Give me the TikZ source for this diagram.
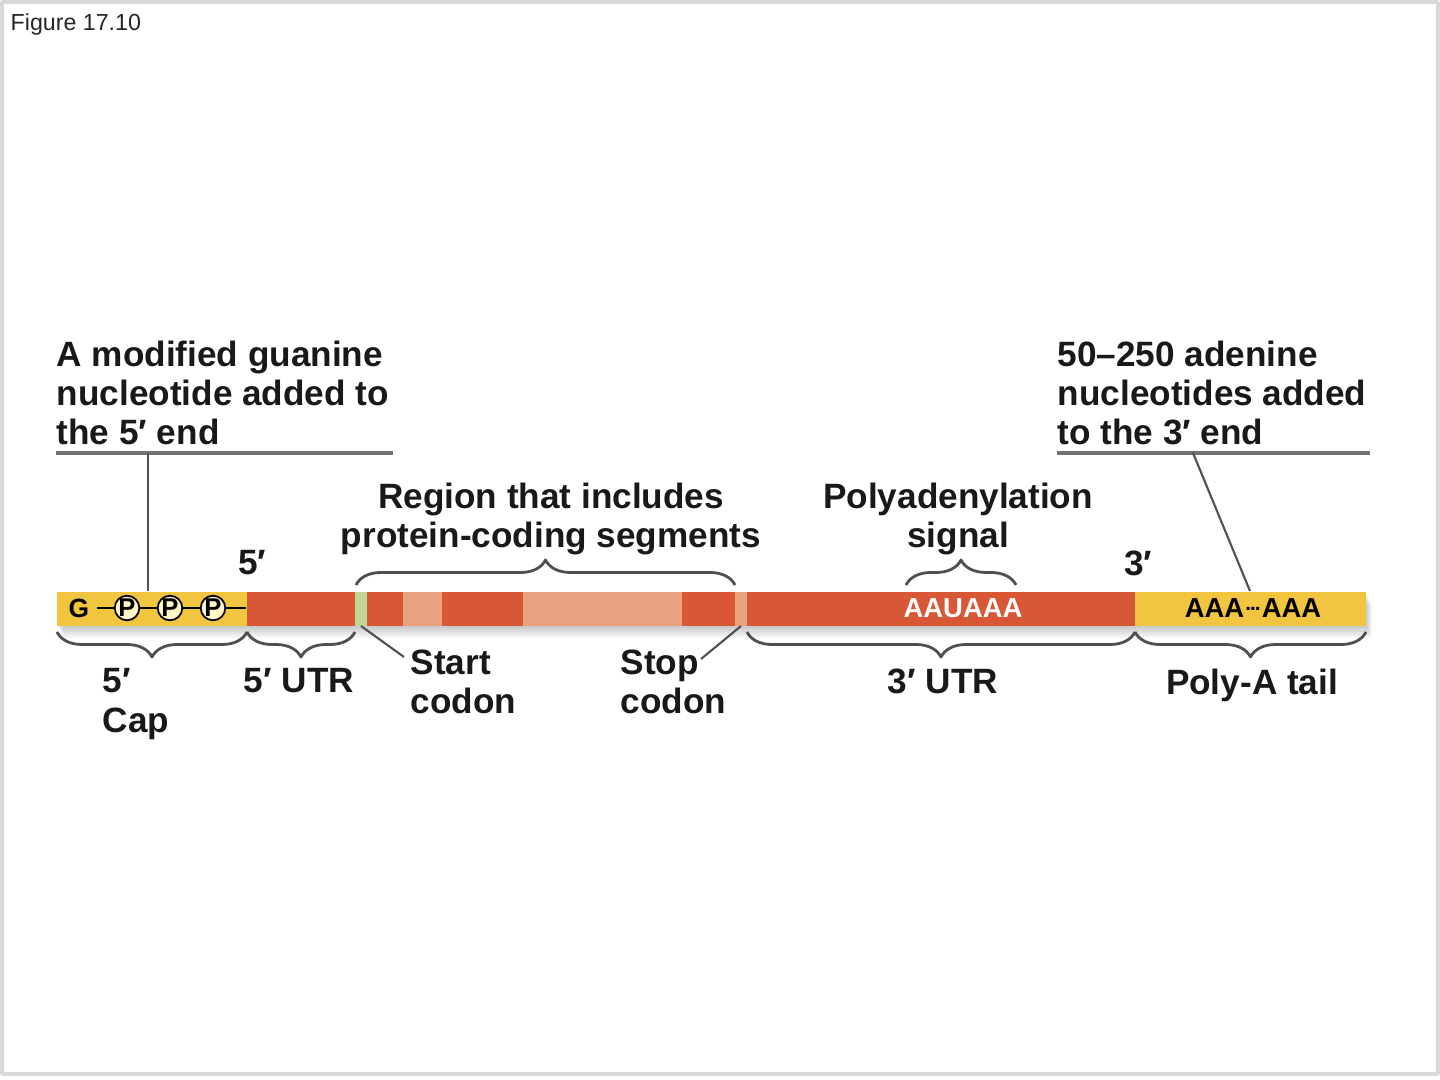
\documentclass[tikz,border=0pt]{standalone}
\usepackage{fontspec}
\setmainfont{Liberation Sans}
\usetikzlibrary{decorations.pathreplacing}
\definecolor{capyellow}{RGB}{242,197,64}
\definecolor{mrnared}{RGB}{216,88,54}
\definecolor{mrnalight}{RGB}{233,162,128}
\definecolor{startgreen}{RGB}{190,214,150}
\definecolor{phosfill}{RGB}{255,246,200}
\definecolor{linegray}{RGB}{80,80,80}

\begin{document}
\begin{tikzpicture}[x=0.01cm, y=-0.01cm, line join=round,
  lbl/.style={inner sep=0pt, font=\fontsize{10}{11.2}\selectfont\bfseries, text=black!90},
  braceup/.style={decorate, decoration={brace, amplitude=0.25cm}, draw=linegray, line width=0.8pt},
  bracedown/.style={decorate, decoration={brace, amplitude=0.25cm, mirror}, draw=linegray, line width=0.8pt},
  uline/.style={draw=black!55, line width=1.1pt},
  callout/.style={draw=linegray, line width=0.6pt},
  phos/.style={circle, draw=black, line width=0.5pt, fill=phosfill, inner sep=0pt, minimum size=0.23cm, font=\fontsize{7.3}{7.3}\selectfont\bfseries}]
\useasboundingbox (0,0) rectangle (1440,1080);
\fill[white] (0,0) rectangle (1440,1080);
\draw[black!15, line width=1pt] (2,2) rectangle (1438,1074);
\node[anchor=north west, inner sep=0pt, font=\fontsize{6.6}{8}\selectfont, text=black!85] (figlbl) at (10,13) {Figure 17.10};

\foreach \s in {2,4,...,12}
  \fill[black, opacity=0.035] (57+\s/2,592+\s) rectangle (1366+\s/2,626+\s);
\fill[capyellow] (57,592) rectangle (247,626);
\fill[mrnared] (247,592) rectangle (1135,626);
\fill[startgreen] (355,592) rectangle (367,626);
\fill[mrnalight] (403,592) rectangle (442,626);
\fill[mrnalight] (523,592) rectangle (682,626);
\fill[mrnalight] (735,592) rectangle (747,626);
\fill[capyellow] (1135,592) rectangle (1366,626);

\node[inner sep=0.07cm, font=\fontsize{7.5}{7.5}\selectfont\bfseries] (g) at (79,608) {G};
\node[phos] (p1) at (127,608) {P};
\node[phos] (p2) at (170,608) {P};
\node[phos] (p3) at (213,608) {P};
\coordinate (capjoin) at (246,608);
\draw[line width=0.5pt] (g) -- (p1) -- (p2) -- (p3) -- (capjoin);
\node[inner sep=0pt, font=\fontsize{7.8}{7.8}\selectfont\bfseries, text=white] (signal) at (963,608) {AAUAAA};
\node[inner sep=0pt, font=\fontsize{7.8}{7.8}\selectfont\bfseries] (tail) at (1253,608) {AAA\raisebox{0.5ex}{\fontsize{6}{6}\selectfont\kern0.3pt.\kern-0.3pt.\kern-0.3pt.\kern0.3pt}AAA};

\node[lbl, anchor=north west, align=left] (capnote) at (56,340) {A modified guanine\\nucleotide added to\\the 5′ end};
\node[lbl, anchor=north west, align=left] (tailnote) at (1057,340) {50–250 adenine\\nucleotides added\\to the 3′ end};
\node[lbl, anchor=north, align=center] (codinglbl) at (551,482) {Region that includes\\protein-coding segments};
\node[lbl, anchor=north, align=center] (signallbl) at (958,482) {Polyadenylation\\signal};
\node[lbl, anchor=north] (fiveend) at (252,550) {5′};
\node[lbl, anchor=north] (threeend) at (1138,550) {3′};
\node[lbl, anchor=north west, align=left] (caplbl) at (102,668) {5′\\Cap};
\node[lbl, anchor=north] (utr5lbl) at (299,668) {5′ UTR};
\node[lbl, anchor=north west, align=left] (startlbl) at (410,649) {Start\\codon};
\node[lbl, anchor=north west, align=left] (stoplbl) at (620,649) {Stop\\codon};
\node[lbl, anchor=north] (utr3lbl) at (943,668) {3′ UTR};
\node[lbl, anchor=north] (taillbl) at (1252,668) {Poly-A tail};

\draw[uline] (56,453) -- (393,453);
\draw[uline] (1057,453) -- (1370,453);
\coordinate (capfoot) at (148,453);
\coordinate (captop) at (148,591);
\coordinate (tailfoot) at (1193,453);
\coordinate (tailtop) at (1250,591);
\coordinate (startcod) at (361,626);
\coordinate (startend) at (404,657);
\coordinate (stopcod) at (741,626);
\coordinate (stopend) at (701,659);
\draw[callout] (capfoot) -- (captop);
\draw[callout] (tailfoot) -- (tailtop);
\draw[callout] (startcod) -- (startend);
\draw[callout] (stopcod) -- (stopend);

\draw[braceup] (356,585) -- (735,585);
\draw[braceup] (906,585) -- (1016,585);
\draw[bracedown] (57,632) -- (247,632);
\draw[bracedown] (247,632) -- (355,632);
\draw[bracedown] (747,632) -- (1135,632);
\draw[bracedown] (1135,632) -- (1366,632);
\end{tikzpicture}
\end{document}
